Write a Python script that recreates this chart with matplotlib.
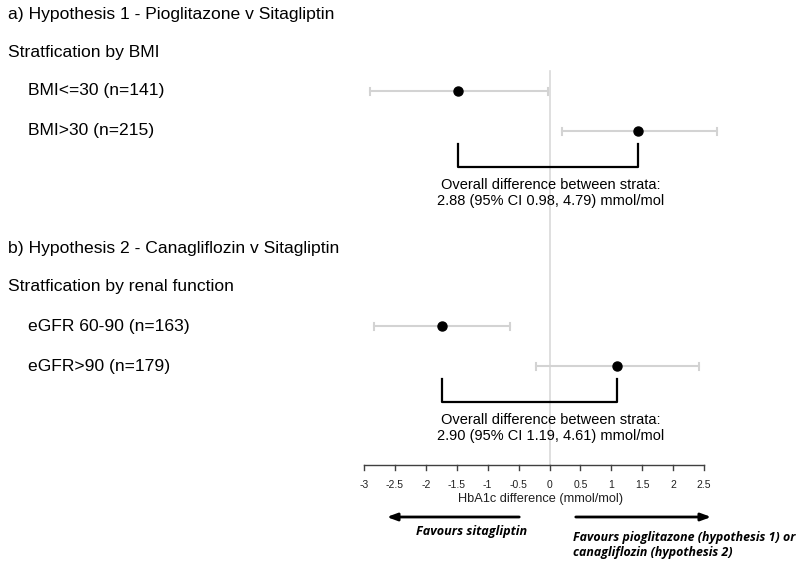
import matplotlib
matplotlib.use("Agg")
import matplotlib.pyplot as plt
import numpy as np

plt.rcParams['font.family'] = ['Liberation Sans', 'DejaVu Sans']

# data (HbA1c difference, mmol/mol)
groups = ["BMI<=30 (n=141)", "BMI>30 (n=215)", "eGFR 60-90 (n=163)", "eGFR>90 (n=179)"]
estimates = [-1.48, 1.43, -1.74, 1.09]
ci_low = [-2.90, 0.20, -2.84, -0.22]
ci_high = [-0.02, 2.71, -0.64, 2.42]
headers = ["a) Hypothesis 1 - Pioglitazone v Sitagliptin",
           "b) Hypothesis 2 - Canagliflozin v Sitagliptin"]
strat_labels = ["Stratfication by BMI", "Stratfication by renal function"]
overall = ["Overall difference between strata:\n2.88 (95% CI 0.98, 4.79) mmol/mol",
           "Overall difference between strata:\n2.90 (95% CI 1.19, 4.61) mmol/mol"]
ticks = [-3, -2.5, -2, -1.5, -1, -0.5, 0, 0.5, 1, 1.5, 2, 2.5]

# layout: pixel positions
X0 = 549.5   # pixel of x=0
SCALE = 61.8  # pixels per unit
row_y = [91, 131, 326, 366]
header_y = [15, 248]
strat_y = [53, 287]
axis_y = 465


def px(x):
    return (x - X0) / SCALE


fig = plt.figure(figsize=(8, 5.68), dpi=100)
ax = fig.add_axes([0, 0, 1, 1])
ax.set_xlim(px(0), px(800))
ax.set_ylim(568, 0)
ax.axis('off')

# zero line
ax.plot([0, 0], [71, axis_y], color="#d9d9d9", lw=1.2, zorder=1)

# CIs and points
for i, y in enumerate(row_y):
    ax.plot([ci_low[i], ci_high[i]], [y, y], color="#d3d3d3", lw=1.5, zorder=2)
    for c in (ci_low[i], ci_high[i]):
        ax.plot([c, c], [y - 3.5, y + 3.5], color="#d3d3d3", lw=1.5, zorder=2)
    ax.plot(estimates[i], y, 'o', color="black", ms=6.5, zorder=3)
    ax.text(px(28), y, groups[i], fontsize=12.6, va="center", ha="left")

# headers
for k in range(2):
    ax.text(px(8), header_y[k], headers[k], fontsize=12.6, va="center", ha="left")
    ax.text(px(8), strat_y[k], strat_labels[k], fontsize=12.6, va="center", ha="left")

    # bracket between strata
    a, b = estimates[2 * k], estimates[2 * k + 1]
    y1 = row_y[2 * k + 1]
    ax.plot([a, a, b, b], [y1 + 13, y1 + 36, y1 + 36, y1 + 13], color="black", lw=1.6, zorder=2)
    ax.text(px(551), y1 + 62, overall[k], fontsize=10.5, ha="center", va="center",
            linespacing=1.2)

# x axis
ax.plot([ticks[0], ticks[-1]], [axis_y, axis_y], color="#404040", lw=1)
for t in ticks:
    ax.plot([t, t], [axis_y, axis_y + 5], color="#404040", lw=1)
    ax.text(t, axis_y + 20, f"{t:g}", fontsize=7.5, ha="center", va="center", color="#202020")
ax.text(px(541), axis_y + 34, "HbA1c difference (mmol/mol)", fontsize=9.2, ha="center",
        va="center", color="#202020")

# favours arrows
ax.annotate("", xy=(px(384), 517), xytext=(px(522), 517),
            arrowprops=dict(arrowstyle="-|>,head_length=0.6,head_width=0.22", color="black", lw=2))
ax.annotate("", xy=(px(714), 517), xytext=(px(573), 517),
            arrowprops=dict(arrowstyle="-|>,head_length=0.6,head_width=0.22", color="black", lw=2))
ax.text(px(527), 532, "Favours sitagliptin", fontsize=9.1, ha="right", va="center",
        style="italic", weight="bold", family=["Open Sans", "DejaVu Sans"])
ax.text(px(573), 545, "Favours pioglitazone (hypothesis 1) or\ncanagliflozin (hypothesis 2)",
        fontsize=8.9, ha="left", va="center", style="italic", weight="bold",
        family=["Open Sans", "DejaVu Sans"], linespacing=1.2)

fig.savefig("out.png", dpi=100, facecolor="white")
